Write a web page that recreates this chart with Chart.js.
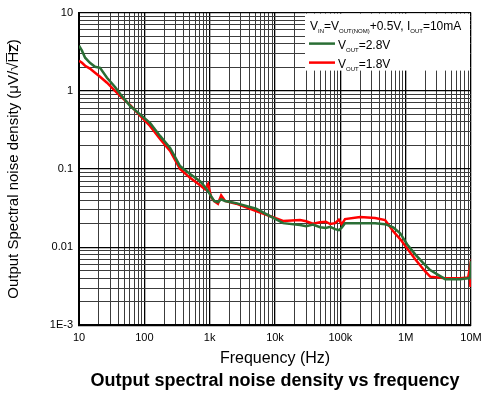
<!DOCTYPE html>
<html lang="en">
<head>
    <meta charset="UTF-8">
    <title>Output spectral noise density vs frequency</title>
    <script src="https://cdn.jsdelivr.net/npm/chart.js"></script>
    <style>
        body { margin: 0; background: #fff; }
        .chart-container { position: relative; width: 481px; height: 396px; }
    </style>
</head>
<body>
    <div class="chart-container">
        <canvas id="myChart"></canvas>
    </div>
    <script>
        // frequency points (Hz) shared by both curves
        const freq = [10, 11.1, 12.4, 14.7, 17.6, 21, 26.8, 35.6, 42.5, 60.4, 86, 122, 174, 248, 352, 501,
            713, 851, 945, 1050, 1170, 1340, 1500, 1720, 2540, 5140, 13300, 24200, 30000, 38000, 49100,
            60000, 70000, 83200, 95000, 105000, 118000, 201000, 341000, 485000, 644000, 824000, 1.05e6,
            1.4e6, 1.99e6, 2.37e6, 4.03e6, 6.84e6, 9.06e6, 9.5e6, 9.8e6, 1e7];
        // noise density, uV/rtHz
        const vout28 = [3.78, 3.26, 2.65, 2.28, 2.03, 1.97, 1.47, 1.12, 0.916, 0.643, 0.5, 0.389, 0.265,
            0.186, 0.109, 0.086, 0.07, 0.0588, 0.052, 0.045, 0.039, 0.0377, 0.041, 0.039, 0.0366, 0.031,
            0.0203, 0.0192, 0.0185, 0.0195, 0.018, 0.0176, 0.0182, 0.017, 0.0165, 0.0178, 0.0203, 0.0203,
            0.0203, 0.0197, 0.018, 0.0151, 0.0109, 0.0081, 0.0059, 0.0051, 0.0039, 0.0039, 0.004, 0.004,
            0.0045, 0.0066];
        const vout18 = [2.43, 2.28, 2.09, 1.92, 1.7, 1.51, 1.27, 1.0, 0.86, 0.66, 0.48, 0.356, 0.243,
            0.17, 0.1, 0.077, 0.062, 0.055, 0.064, 0.044, 0.039, 0.036, 0.046, 0.039, 0.036, 0.029,
            0.0216, 0.0222, 0.0215, 0.02, 0.0209, 0.0212, 0.0198, 0.0203, 0.0225, 0.0195, 0.0229, 0.0243,
            0.0236, 0.0222, 0.016, 0.0127, 0.0097, 0.007, 0.0049, 0.0042, 0.004, 0.004, 0.0041, 0.0052,
            0.0031, 0.0045];

        const xTicks = [10, 100, 1e3, 1e4, 1e5, 1e6, 1e7];
        const xTickLabels = ['10', '100', '1k', '10k', '100k', '1M', '10M'];
        const yTicks = [0.001, 0.01, 0.1, 1, 10];
        const yTickLabels = ['1E-3', '0.01', '0.1', '1', '10'];

        const FONT = 'Liberation Sans, Arial, sans-serif';

        function isDecade(v) {
            const l = Math.log10(v);
            return Math.abs(l - Math.round(l)) < 1e-6;
        }
        // 1..9 per decade, so every grid line is drawn
        function gridValues(decades) {
            const out = [];
            for (let i = 0; i < decades.length - 1; i++) {
                for (let k = 1; k < 10; k++) out.push(decades[i] * k);
            }
            out.push(decades[decades.length - 1]);
            return out;
        }
        function labelFor(v, vals, labels) {
            const i = vals.findIndex(t => Math.abs(Math.log10(t) - Math.log10(v)) < 1e-6);
            return i >= 0 ? labels[i] : '';
        }
        const gridColor = ctx => isDecade(ctx.tick.value) ? '#000' : '#3c3c3c';
        const gridWidth = ctx => isDecade(ctx.tick.value) ? 1.3 : 1;

        // legend drawn in the top right of the plot, with subscripts
        const legendBox = {
            id: 'legendBox',
            afterDatasetsDraw(chart) {
                const { ctx, chartArea } = chart;
                const left = chartArea.right - 166, top = chartArea.top;
                ctx.save();
                ctx.fillStyle = '#fff';
                ctx.fillRect(left, top + 1, chartArea.right - left - 1, 57);
                ctx.fillStyle = '#000';
                ctx.textBaseline = 'alphabetic';

                function run(parts, x, y) {
                    parts.forEach(p => {
                        ctx.font = (p.sub ? '6px ' : '12px ') + FONT;
                        ctx.fillText(p.t, x, p.sub ? y + 3 : y);
                        x += ctx.measureText(p.t).width;
                    });
                }
                run([{ t: 'V' }, { t: 'IN', sub: 1 }, { t: '=V' }, { t: 'OUT(NOM)', sub: 1 },
                    { t: '+0.5V, I' }, { t: 'OUT', sub: 1 }, { t: '=10mA' }], left + 5, top + 17);

                const rows = [
                    { c: '#2a6e35', v: '=2.8V', y: top + 31 },
                    { c: '#ff0000', v: '=1.8V', y: top + 50 }
                ];
                rows.forEach(r => {
                    ctx.strokeStyle = r.c;
                    ctx.lineWidth = 2.5;
                    ctx.beginPath();
                    ctx.moveTo(left + 4, r.y);
                    ctx.lineTo(left + 30, r.y);
                    ctx.stroke();
                    run([{ t: 'V' }, { t: 'OUT', sub: 1 }, { t: r.v }], left + 33, r.y + 5);
                });
                ctx.restore();
            }
        };

        const config = {
            type: 'line',
            data: {
                datasets: [
                    {
                        label: 'VOUT=2.8V',
                        data: freq.map((f, i) => ({ x: f, y: vout28[i] })),
                        borderColor: '#2a6e35',
                        borderWidth: 2.5,
                        pointRadius: 0,
                        tension: 0
                    },
                    {
                        label: 'VOUT=1.8V',
                        data: freq.map((f, i) => ({ x: f, y: vout18[i] })),
                        borderColor: '#ff0000',
                        borderWidth: 2.5,
                        pointRadius: 0,
                        tension: 0
                    }
                ]
            },
            options: {
                responsive: true,
                maintainAspectRatio: false,
                animation: false,
                layout: { padding: { top: 12, right: 0, left: 0, bottom: 0 } },
                plugins: {
                    legend: { display: false },
                    tooltip: { enabled: false },
                    title: {
                        display: true,
                        position: 'bottom',
                        fullSize: false,
                        text: 'Output spectral noise density vs frequency',
                        color: '#000',
                        font: { family: FONT, size: 18, weight: 'bold' },
                        padding: { top: 2, bottom: 4 }
                    }
                },
                scales: {
                    x: {
                        type: 'logarithmic',
                        min: xTicks[0],
                        max: xTicks[xTicks.length - 1],
                        afterBuildTicks: s => { s.ticks = gridValues(xTicks).map(v => ({ value: v })); },
                        afterFit: s => { s.height = 43; s.paddingRight = 10; s.paddingLeft = 0; },
                        ticks: {
                            autoSkip: false,
                            maxRotation: 0,
                            padding: 6,
                            color: '#000',
                            font: { family: FONT, size: 11 },
                            callback: v => labelFor(v, xTicks, xTickLabels)
                        },
                        grid: { color: gridColor, lineWidth: gridWidth, drawTicks: false },
                        border: { display: true, color: '#000', width: 2 },
                        title: {
                            display: true,
                            text: 'Frequency (Hz)',
                            color: '#000',
                            font: { family: FONT, size: 16 },
                            padding: { top: 0, bottom: 0 }
                        }
                    },
                    y: {
                        type: 'logarithmic',
                        min: yTicks[0],
                        max: yTicks[yTicks.length - 1],
                        afterBuildTicks: s => { s.ticks = gridValues(yTicks).map(v => ({ value: v })); },
                        afterFit: s => { s.width = 79; },
                        ticks: {
                            autoSkip: false,
                            padding: 6,
                            color: '#000',
                            font: { family: FONT, size: 11 },
                            callback: v => labelFor(v, yTicks, yTickLabels)
                        },
                        grid: { color: gridColor, lineWidth: gridWidth, drawTicks: false },
                        border: { display: true, color: '#000', width: 2 },
                        title: {
                            display: true,
                            text: 'Output Spectral noise density (\u03BCV/\u221AH\u0305z\u0305)',
                            color: '#000',
                            font: { family: FONT, size: 15 },
                            padding: { top: 5, bottom: 0 }
                        }
                    }
                }
            },
            plugins: [legendBox]
        };

        const myChart = new Chart(document.getElementById('myChart'), config);
    </script>
</body>
</html>
